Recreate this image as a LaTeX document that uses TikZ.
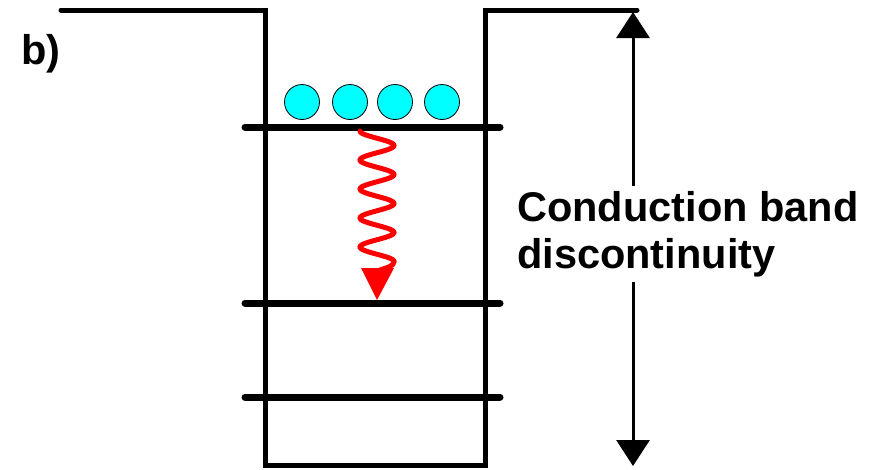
\documentclass[tikz,border=0pt]{standalone}
\usepackage{fontspec}
\setmainfont{Liberation Sans}
\usetikzlibrary{arrows.meta}
\definecolor{elcyan}{RGB}{0,255,255}
\definecolor{wavered}{RGB}{255,0,0}
\begin{document}
\begin{tikzpicture}[x=1pt,y=-1pt,
  well/.style={line width=5pt, line cap=round, line join=miter},
  level/.style={line width=7pt, line cap=round},
  electron/.style={circle, draw=black, line width=0.8pt, fill=elcyan, minimum size=35pt, inner sep=0pt},
  lbl/.style={font=\fontsize{41.5}{47}\selectfont\bfseries, inner sep=0pt}]
\useasboundingbox (0,0) rectangle (875,469);
% well
\draw[well] (61,10) -- (265,10) -- (265,465) -- (485,465) -- (485,10) -- (637,10);
% levels
\draw[level] (245,127) -- (500,127);
\draw[level] (245,303) -- (500,303);
\draw[level] (245,397) -- (500,397);
% electrons
\node[electron] (e1) at (302,102) {};
\node[electron] (e2) at (350,102) {};
\node[electron] (e3) at (395,102) {};
\node[electron] (e4) at (442,102) {};
% wavy emission
\draw[wavered, line width=5pt, line cap=round] plot[domain=0:131, samples=200, smooth] ({377-17*cos(12.4138*\x)}, {\x+131});
\draw[wavered, line width=5pt, line cap=round] (394,262) .. controls (394,266) and (386,268) .. (380,270);
\fill[wavered] (361,268) -- (394,268) -- (377,300) -- cycle;
% discontinuity arrow
\coordinate (top) at (633,12);
\coordinate (bot) at (633,466);
\draw[line width=3pt, {Triangle[length=26pt,width=33pt]}-{Triangle[length=26pt,width=33pt]}] (top) -- (bot);
\node[lbl, fill=white, align=left, anchor=west, inner ysep=5pt] (t) at (517,234) {Conduction band\\discontinuity};
\node[lbl, anchor=base west] (b) at (21,64) {b)};
\end{tikzpicture}
\end{document}
